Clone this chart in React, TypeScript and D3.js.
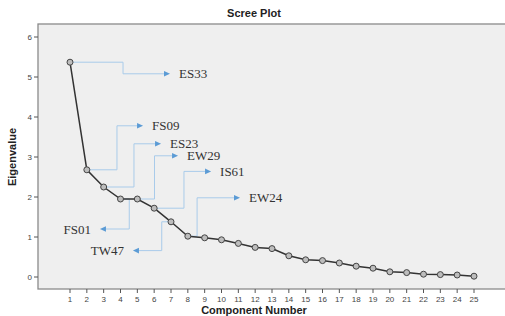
import React from "react";
import * as d3 from "d3";

const WIDTH = 505;
const HEIGHT = 316;

const components = d3.range(1, 26);
const eigenvalues = [
  5.37, 2.68, 2.25, 1.95, 1.95, 1.72, 1.38, 1.02, 0.98, 0.93, 0.84, 0.74, 0.71,
  0.53, 0.43, 0.41, 0.35, 0.27, 0.22, 0.13, 0.11, 0.07, 0.06, 0.05, 0.02,
];
const yTicks = [0, 1, 2, 3, 4, 5, 6];

// callout labels: which component they point from, text, and direction
const calloutLabels = ["ES33", "FS09", "ES23", "EW29", "IS61", "EW24", "FS01", "TW47"];
const calloutAnchors = [1, 2, 3, 5, 6, 8, 4, 7];
const calloutDirs = ["right", "right", "right", "right", "right", "right", "left", "left"];
// elbow x / target y / arrow tip x, in data units
const calloutElbowX = [4.15, 3.79, 4.8, 6.02, 7.77, 8.55, 4.52, 6.45];
const calloutTargetY = [5.08, 3.78, 3.33, 3.03, 2.64, 1.98, 1.2, 0.66];
const calloutTipX = [6.94, 5.34, 6.41, 7.42, 9.38, 11.1, 2.78, 4.74];

export default function App() {
  const x = d3.scaleLinear().domain([1, 25]).range([70, 474]);
  const y = d3.scaleLinear().domain([0, 6]).range([277, 37]);

  const box = { left: 38, top: 24, bottom: 289, right: WIDTH + 10 };

  const linePath = d3
    .line<number>()
    .x((d, i) => x(components[i]))
    .y((d) => y(d))(eigenvalues);

  const lineBlue = "#a9cbea";
  const arrowBlue = "#5b9bd5";

  return (
    <svg
      width={WIDTH}
      height={HEIGHT}
      style={{ position: "absolute", left: 0, top: 0, background: "#fff" }}
      fontFamily="'Liberation Sans', Arial, sans-serif"
    >
      <text x={254} y={17} textAnchor="middle" fontSize={11} fontWeight="bold" fill="#222">
        Scree Plot
      </text>

      <rect
        x={box.left}
        y={box.top}
        width={box.right - box.left}
        height={box.bottom - box.top}
        fill="#efefef"
        stroke="#8a8a8a"
        strokeWidth={1.3}
      />

      {/* y axis */}
      {yTicks.map((t) => (
        <g key={t}>
          <line x1={box.left - 4} x2={box.left} y1={y(t)} y2={y(t)} stroke="#555" />
          <text x={box.left - 6} y={y(t) + 3} textAnchor="end" fontSize={8} fill="#444">
            {t}
          </text>
        </g>
      ))}
      <text
        transform={`translate(16,${157}) rotate(-90)`}
        textAnchor="middle"
        fontSize={11}
        fontWeight="bold"
        fill="#222"
      >
        Eigenvalue
      </text>

      {/* x axis */}
      {components.map((c) => (
        <g key={c}>
          <line x1={x(c)} x2={x(c)} y1={box.bottom} y2={box.bottom + 4} stroke="#555" />
          <text x={x(c)} y={box.bottom + 13} textAnchor="middle" fontSize={8} fill="#444">
            {c}
          </text>
        </g>
      ))}
      <text x={254} y={314} textAnchor="middle" fontSize={11} fontWeight="bold" fill="#222">
        Component Number
      </text>

      {/* callouts */}
      {calloutLabels.map((label, i) => {
        const ax = x(calloutAnchors[i]);
        const ay = y(eigenvalues[calloutAnchors[i] - 1]);
        const ex = x(calloutElbowX[i]);
        const ty = y(calloutTargetY[i]);
        const tip = x(calloutTipX[i]);
        const dir = calloutDirs[i] === "right" ? 1 : -1;
        const path = d3.path();
        path.moveTo(ax, ay);
        path.lineTo(ex, ay);
        path.lineTo(ex, ty);
        path.lineTo(tip - dir * 5, ty);
        return (
          <g key={label}>
            <path d={path.toString()} fill="none" stroke={lineBlue} strokeWidth={1} />
            <path
              d={`M${tip},${ty}L${tip - dir * 6},${ty - 2.8}L${tip - dir * 6},${ty + 2.8}Z`}
              fill={arrowBlue}
            />
            <text
              x={tip + dir * 9}
              y={ty + 4.5}
              textAnchor={dir === 1 ? "start" : "end"}
              fontFamily="'Liberation Serif', 'Times New Roman', serif"
              fontSize={13}
              fill="#333"
            >
              {label}
            </text>
          </g>
        );
      })}

      {/* scree line */}
      <path d={linePath ?? ""} fill="none" stroke="#333" strokeWidth={1.5} />
      {eigenvalues.map((v, i) => (
        <circle
          key={i}
          cx={x(components[i])}
          cy={y(v)}
          r={3}
          fill="#bdbdbd"
          stroke="#444"
          strokeWidth={1}
        />
      ))}
    </svg>
  );
}
